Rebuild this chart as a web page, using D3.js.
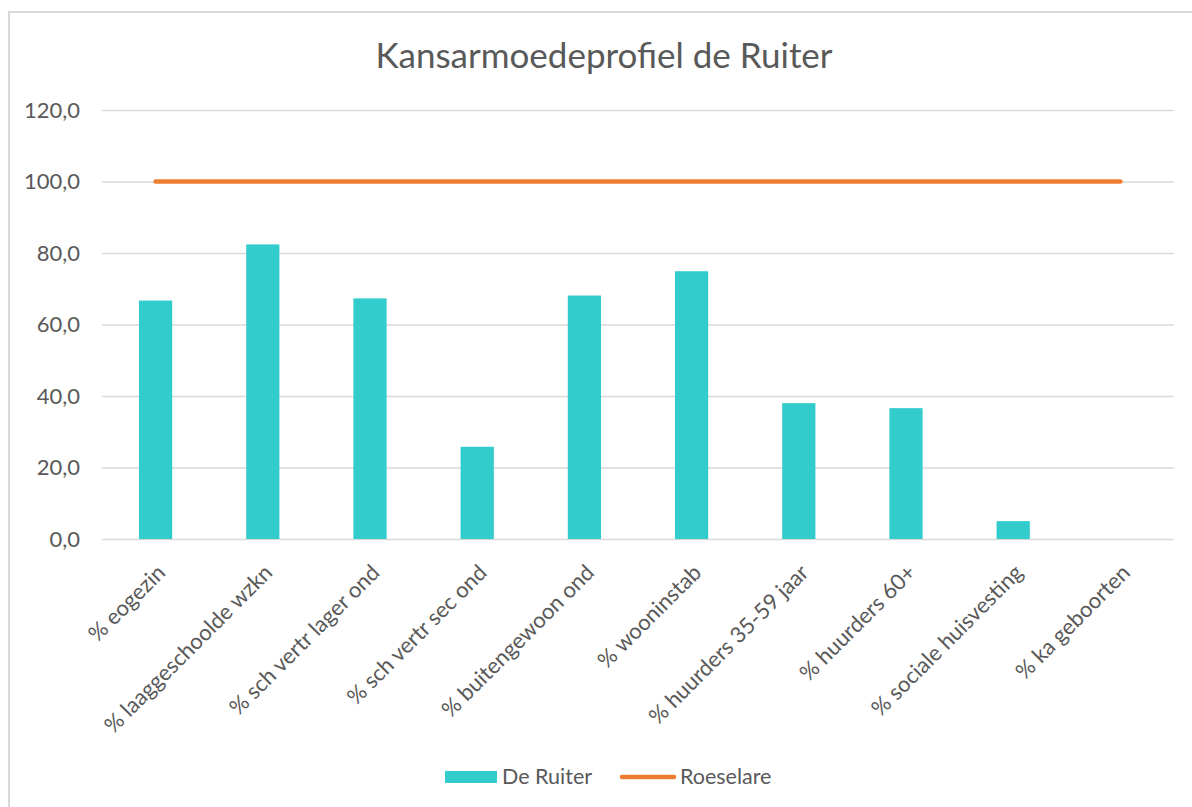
<!DOCTYPE html>
<html>
<head>
<meta charset="utf-8">
<script src="https://cdn.jsdelivr.net/npm/d3@7"></script>
<style>
    body { margin: 0; background: #fff; }
    text { font-family: Lato, "Open Sans", sans-serif; fill: #595959; }
</style>
</head>
<body>
<div class="chartBox"></div>
<script>
// data
var categories = ["% eogezin", "% laaggeschoolde wzkn", "% sch vertr lager ond", "% sch vertr sec ond",
    "% buitengewoon ond", "% wooninstab", "% huurders 35-59 jaar", "% huurders 60+",
    "% sociale huisvesting", "% ka geboorten"];
var deRuiter = [66.7, 82.4, 67.3, 25.8, 68.1, 74.9, 38.0, 36.6, 5.0, 0];
var roeselare = [100, 100, 100, 100, 100, 100, 100, 100, 100, 100];
var yTicks = [0, 20, 40, 60, 80, 100, 120];
var seriesNames = ["De Ruiter", "Roeselare"];
var title = "Kansarmoedeprofiel de Ruiter";

// canvas
var W = 1192, H = 807;
var plotLeft = 102, plotRight = 1174, plotTop = 110, plotBottom = 539;
var barColor = "#33cccc", lineColor = "#ed7d31", gridColor = "#d9d9d9";

var svg = d3.select(".chartBox")
    .append("svg")
    .attr("width", W)
    .attr("height", H);

// outer frame
svg.append("rect")
    .attr("x", 9)
    .attr("y", 12)
    .attr("width", W + 20)
    .attr("height", H + 20)
    .attr("fill", "none")
    .attr("stroke", gridColor)
    .attr("stroke-width", 2);

// scales
var x = d3.scaleBand()
    .domain(categories)
    .range([plotLeft, plotRight])
    .paddingInner(0.69)
    .paddingOuter(0.345);
var xc = function(d) { return x(d) + x.bandwidth() / 2; };

var y = d3.scaleLinear()
    .domain([0, 120])
    .range([plotBottom, plotTop]);

// title
svg.append("text")
    .attr("x", 604)
    .attr("y", 68)
    .attr("text-anchor", "middle")
    .style("font-size", "35px")
    .text(title);

// y axis with gridlines
var yAxis = d3.axisLeft(y)
    .tickValues(yTicks)
    .tickSize(-(plotRight - plotLeft))
    .tickPadding(22)
    .tickFormat(function(d) { return d3.format(".1f")(d).replace(".", ","); });

var gy = svg.append("g")
    .attr("transform", "translate(" + plotLeft + ",0)")
    .call(yAxis);
gy.select(".domain").remove();
gy.selectAll(".tick line")
    .attr("stroke", gridColor)
    .attr("stroke-width", 1.3);
gy.selectAll(".tick text")
    .style("font-size", "22px")
    .style("font-family", "Lato, sans-serif")
    .attr("fill", "#595959");

// bars
svg.selectAll("rect.bar")
    .data(deRuiter)
    .enter().append("rect")
    .attr("class", "bar")
    .attr("x", function(d, i) { return x(categories[i]); })
    .attr("y", function(d) { return y(d); })
    .attr("width", x.bandwidth())
    .attr("height", function(d) { return y(0) - y(d); })
    .attr("fill", barColor);

// Roeselare line
var line = d3.line()
    .x(function(d, i) { return xc(categories[i]); })
    .y(function(d) { return y(d); });

svg.append("path")
    .datum(roeselare)
    .attr("d", line)
    .attr("fill", "none")
    .attr("stroke", lineColor)
    .attr("stroke-width", 4.5)
    .attr("stroke-linecap", "round");

// x labels, rotated
svg.selectAll("text.xlabel")
    .data(categories)
    .enter().append("text")
    .attr("class", "xlabel")
    .attr("text-anchor", "end")
    .attr("transform", function(d) {
        return "translate(" + (xc(d) + 11) + "," + 574 + ") rotate(-45)";
    })
    .style("font-size", "22px")
    .text(function(d) { return d; });

// legend
var legend = svg.append("g");
legend.append("rect")
    .attr("x", 445)
    .attr("y", 771)
    .attr("width", 52)
    .attr("height", 12)
    .attr("fill", barColor);
legend.append("text")
    .attr("x", 502)
    .attr("y", 784)
    .style("font-size", "21.5px")
    .text(seriesNames[0]);
legend.append("line")
    .attr("x1", 622)
    .attr("x2", 674)
    .attr("y1", 777)
    .attr("y2", 777)
    .attr("stroke", lineColor)
    .attr("stroke-width", 4.5)
    .attr("stroke-linecap", "round");
legend.append("text")
    .attr("x", 680)
    .attr("y", 784)
    .style("font-size", "21.5px")
    .text(seriesNames[1]);
</script>
</body>
</html>
